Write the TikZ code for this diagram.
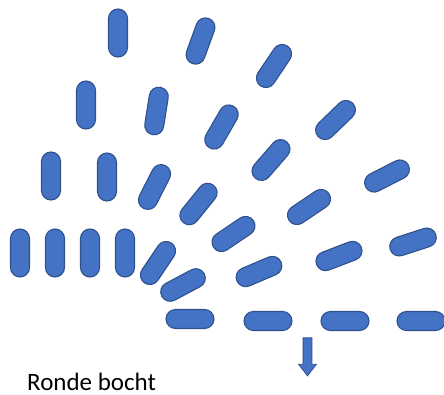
\documentclass[tikz,border=0pt]{standalone}
\usepackage{fontspec}
\setmainfont{Carlito}
\usepackage{tikz}
\usetikzlibrary{shapes.arrows}
\definecolor{pillblue}{HTML}{4472C4}
\definecolor{pillrand}{HTML}{2F528F}

\begin{document}
\begin{tikzpicture}[
		x=1pt, y=-1pt,
		pill/.style	={ rectangle, fill=pillblue, draw=pillrand,
			line width=1.1pt, inner sep=0pt,
			minimum width=48pt, minimum height=19pt,
			rounded corners=9.5pt,
		},
		pijl/.style	={ single arrow, fill=pillblue, draw=pillrand,
			line width=0.8pt, inner sep=4pt,
			minimum height=38pt, minimum width=17pt,
			single arrow head extend=4.5pt, single arrow tip angle=75,
		},
	]
	\useasboundingbox (0,0) rectangle (444,394);

	% x / y / rotation of every pill
	\def\pilllist{ 118/33/90, 86/105/90, 51/176/90, 107/177/90,
		20/253/90, 55/253/90, 90/253/90, 125/253/90,
		200.5/41/70, 274/66/56, 156.5/111/81, 221.5/127/60,
		335.5/120/44, 271/160/49, 387/176/27,
		154.5/187/63, 198.5/204/51, 309/207/34, 233.5/234/34,
		339/256/21, 413/242/18, 158/263/56, 259/271.5/23, 183/285/28,
		190/319/0, 268/321/0, 345/321/0, 421/321/0}

	% draw pills
	\foreach \x/\y/\r [count=\n] in \pilllist
		\node [pill, rotate=\r] (pill_\n) at (\x,\y) {};

	% draw arrow
	\node [pijl, rotate=-90] (pijl) at (307.5,354) {};

	% draw label
	\node [anchor=base west, inner sep=0pt, font=\fontsize{25}{29}\selectfont] (label) at (27,390) {Ronde bocht};

\end{tikzpicture}
\end{document}
